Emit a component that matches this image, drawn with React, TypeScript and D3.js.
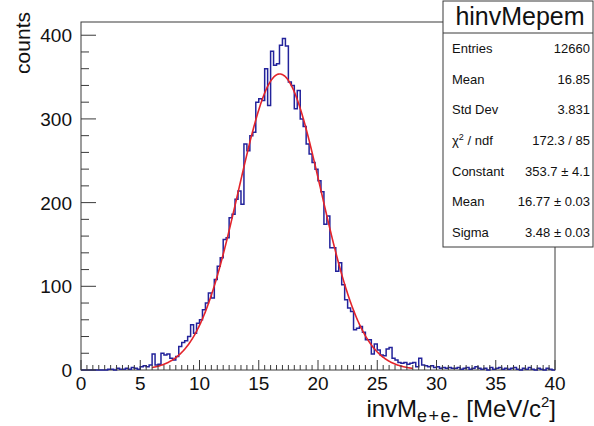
import React from "react";
import * as d3 from "d3";

// Histogram hinvMepem: 160 bins of 0.25 MeV/c^2 between 0 and 40
const xMin = 0;
const xMax = 40;
const counts = [
  0, 0, 0, 0, 0, 0, 0, 0,
  0, 1, 1, 0, 2, 1, 1, 2, 1, 3, 2, 1,
  4, 5, 4, 6,
  19, 6, 7, 20, 18, 19, 14, 12,
  16, 28, 33, 35, 40, 54, 44, 56, 60,
  72, 80, 92, 86, 108, 124, 134, 156, 158, 182, 186, 204, 214,
  198, 270, 262, 280, 284, 320, 324, 322,
  360, 316, 381, 364, 366, 388, 396, 387, 344, 340, 312, 334, 300, 291, 270, 258, 248,
  240, 226, 213, 174, 184, 146, 146, 118, 128, 102, 84, 74, 70, 48, 50, 52, 45, 36, 36,
  19, 31, 24, 18, 17, 25, 27, 14, 12, 9, 8, 9, 7, 8, 9, 4, 14, 6, 5, 4, 5, 3,
  4, 2, 3, 2, 3, 2, 2, 3, 1, 2, 3, 1, 2, 4, 2, 1, 2, 0, 3, 1,
  2, 3, 1, 2, 1, 2, 3, 1, 0, 2, 1, 3, 1, 0, 2, 1, 0, 2, 1, 0,
];

const xTicks = [0, 5, 10, 15, 20, 25, 30, 35, 40];
const yTicks = [0, 100, 200, 300, 400];

// Gaussian fit parameters and range
const fitConstant = 353.7;
const fitMean = 16.77;
const fitSigma = 3.48;
const fitRange = [6, 28];

// Statistics box
const statTitle = "hinvMepem";
const statLabels = ["Entries", "Mean", "Std Dev", "CHI2", "Constant", "Mean", "Sigma"];
const statValues = ["12660", "16.85", "3.831", "172.3 / 85", "353.7 \u00b1 4.1", "16.77 \u00b1 0.03", "3.48 \u00b1 0.03"];

const W = 594;
const H = 426;
const frame = { left: 81, right: 555, top: 22, bottom: 370 };
const FONT = "'Liberation Sans', Arial, Helvetica, sans-serif";
const AXIS = "#3a3a3a";

export default function App() {
  const nBins = counts.length;
  const binW = (xMax - xMin) / nBins;
  const yMax = (d3.max(counts) as number) * 1.05;

  const x = d3.scaleLinear().domain([xMin, xMax]).range([frame.left, frame.right]);
  const y = d3.scaleLinear().domain([0, yMax]).range([frame.bottom, frame.top]);

  // step outline of the histogram
  const pts: [number, number][] = [[xMin, 0]];
  counts.forEach((c, i) => {
    pts.push([xMin + i * binW, c]);
    pts.push([xMin + (i + 1) * binW, c]);
  });
  pts.push([xMax, 0]);
  const histPath = d3
    .line<[number, number]>()
    .x((d) => x(d[0]))
    .y((d) => y(d[1]))(pts) as string;

  const gauss = (v: number) =>
    fitConstant * Math.exp(-0.5 * ((v - fitMean) / fitSigma) ** 2);
  const fitPts = d3.range(fitRange[0], fitRange[1] + 1e-9, 0.05).map((v) => [v, gauss(v)] as [number, number]);
  const fitPath = d3
    .line<[number, number]>()
    .x((d) => x(d[0]))
    .y((d) => y(d[1]))
    .curve(d3.curveLinear)(fitPts) as string;

  const xMinor = d3.range(xMin, xMax + 1e-9, 0.5).filter((v) => !xTicks.includes(v));
  const yMinor = d3.range(0, yMax, 20).filter((v) => !yTicks.includes(v));

  const box = { x: 443, y: 1, w: 150, h: 246, head: 32 };
  const rowH = (box.h - box.head) / statLabels.length;

  return (
    <svg
      width={W}
      height={H}
      viewBox={`0 0 ${W} ${H}`}
      style={{ position: "absolute", left: 0, top: 0, background: "#fff" }}
      fontFamily={FONT}
    >
      <rect x={0} y={0} width={W} height={H} fill="#fff" />

      {/* frame */}
      <rect
        x={frame.left}
        y={frame.top}
        width={frame.right - frame.left}
        height={frame.bottom - frame.top}
        fill="none"
        stroke={AXIS}
        strokeWidth={1}
      />

      {/* histogram and fit */}
      <path d={histPath} fill="none" stroke="#23239b" strokeWidth={1.5} />
      <path d={fitPath} fill="none" stroke="#e3242b" strokeWidth={1.6} />

      {/* x axis ticks */}
      {xTicks.map((t) => (
        <line key={"xM" + t} x1={x(t)} x2={x(t)} y1={frame.bottom} y2={frame.bottom - 10} stroke={AXIS} />
      ))}
      {xMinor.map((t) => (
        <line key={"xm" + t} x1={x(t)} x2={x(t)} y1={frame.bottom} y2={frame.bottom - 5} stroke={AXIS} />
      ))}
      {xTicks.map((t) => (
        <text key={"xl" + t} x={x(t)} y={390} fontSize={19} textAnchor="middle" fill="#111">
          {t}
        </text>
      ))}

      {/* y axis ticks */}
      {yTicks.map((t) => (
        <line key={"yM" + t} x1={frame.left} x2={frame.left + 15} y1={y(t)} y2={y(t)} stroke={AXIS} />
      ))}
      {yMinor.map((t) => (
        <line key={"ym" + t} x1={frame.left} x2={frame.left + 8} y1={y(t)} y2={y(t)} stroke={AXIS} />
      ))}
      {yTicks.map((t) => (
        <text key={"yl" + t} x={72} y={y(t) + 7} fontSize={19} textAnchor="end" fill="#111">
          {t}
        </text>
      ))}

      {/* axis titles */}
      <text
        transform={`translate(30, 12) rotate(-90)`}
        fontSize={21}
        textAnchor="end"
        fill="#111"
      >
        counts
      </text>
      <text x={556} y={417} fontSize={24} textAnchor="end" fill="#111">
        invM
        <tspan fontSize={18} dy={5} letterSpacing={1.5}>e+e-</tspan>
        <tspan dy={-5}> [MeV/c</tspan>
        <tspan fontSize={15} dy={-10}>2</tspan>
        <tspan dy={10}>]</tspan>
      </text>

      {/* statistics box */}
      <rect x={box.x} y={box.y} width={box.w} height={box.h} fill="#fff" stroke={AXIS} strokeWidth={1} />
      <line x1={box.x} x2={box.x + box.w} y1={box.y + box.head} y2={box.y + box.head} stroke={AXIS} />
      <text x={box.x + box.w / 2 + 2} y={box.y + 24} fontSize={25} textAnchor="middle" fill="#111">
        {statTitle}
      </text>
      {statLabels.map((lab, i) => {
        const cy = box.y + box.head + rowH * (i + 0.5) + 5;
        return (
          <g key={"st" + i}>
            <text x={452} y={cy} fontSize={13} fill="#111">
              {lab === "CHI2" ? (
                <>
                  {"\u03c7"}
                  <tspan fontSize={9} dy={-5}>2</tspan>
                  <tspan dy={5}> / ndf</tspan>
                </>
              ) : (
                lab
              )}
            </text>
            <text x={590} y={cy} fontSize={13} textAnchor="end" fill="#111">
              {statValues[i]}
            </text>
          </g>
        );
      })}
    </svg>
  );
}
